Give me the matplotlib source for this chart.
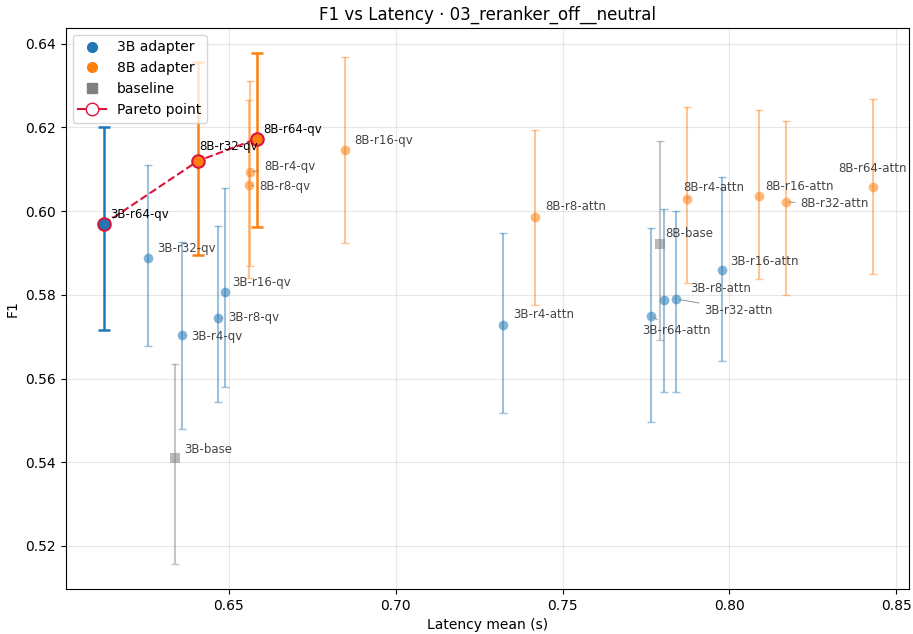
import matplotlib
matplotlib.use("Agg")
import matplotlib.pyplot as plt
from matplotlib.lines import Line2D

# runs: name, mean latency (s), F1, F1 error lower/upper bounds
names = ["3B-r64-qv", "3B-r32-qv", "3B-r4-qv", "3B-r8-qv", "3B-r16-qv", "3B-base",
         "8B-r32-qv", "8B-r64-qv", "8B-r4-qv", "8B-r8-qv", "8B-r16-qv",
         "3B-r4-attn", "8B-r8-attn", "3B-r64-attn", "8B-base", "3B-r8-attn",
         "3B-r32-attn", "8B-r4-attn", "3B-r16-attn", "8B-r16-attn", "8B-r32-attn",
         "8B-r64-attn"]
latency = [0.6125, 0.6257, 0.6359, 0.6467, 0.6488, 0.6338,
           0.6407, 0.6584, 0.6563, 0.6560, 0.6848,
           0.7322, 0.7418, 0.7766, 0.7793, 0.7805,
           0.7841, 0.7874, 0.7979, 0.8087, 0.8168,
           0.8429]
f1 = [0.5969, 0.5888, 0.5704, 0.5744, 0.5807, 0.5410,
      0.6120, 0.6173, 0.6094, 0.6062, 0.6145,
      0.5728, 0.5987, 0.5749, 0.5922, 0.5788,
      0.5790, 0.6030, 0.5859, 0.6036, 0.6022,
      0.6058]
f1_low = [0.5716, 0.5678, 0.5479, 0.5544, 0.5579, 0.5156,
          0.5895, 0.5962, 0.5869, 0.5840, 0.5924,
          0.5517, 0.5776, 0.5496, 0.5692, 0.5567,
          0.5567, 0.5828, 0.5642, 0.5838, 0.5800,
          0.5850]
f1_high = [0.6201, 0.6111, 0.5926, 0.5965, 0.6056, 0.5634,
           0.6357, 0.6378, 0.6311, 0.6266, 0.6369,
           0.5948, 0.6194, 0.5960, 0.6168, 0.6005,
           0.6000, 0.6249, 0.6082, 0.6242, 0.6216,
           0.6268]
pareto = ["3B-r64-qv", "8B-r32-qv", "8B-r64-qv"]

# label offsets in pixels (dx, dy); the ones in `leader` get a thin connector
label_offset = {
    "3B-r64-qv": (6, 10), "3B-r32-qv": (9, 10), "3B-r4-qv": (9, -1),
    "3B-r8-qv": (10, 1), "3B-r16-qv": (7, 9), "3B-base": (9, 9),
    "8B-r32-qv": (1, 14), "8B-r64-qv": (6, 9), "8B-r4-qv": (14, 5),
    "8B-r8-qv": (10, -1), "8B-r16-qv": (9, 10), "3B-r4-attn": (10, 10),
    "8B-r8-attn": (10, 10), "3B-r64-attn": (-9, -14), "8B-base": (5, 10),
    "3B-r8-attn": (26, 11), "3B-r32-attn": (28, -11), "8B-r4-attn": (-4, 11),
    "3B-r16-attn": (8, 9), "8B-r16-attn": (7, 10), "8B-r32-attn": (15, -2),
    "8B-r64-attn": (-34, 18),
}
leader = {"3B-r4-qv", "3B-r8-qv", "8B-r4-qv", "8B-r8-qv", "3B-r64-attn",
          "3B-r32-attn", "8B-r4-attn", "8B-r32-attn"}

C3 = "#1f77b4"
C8 = "#ff7f0e"
CB = "#808080"

fig, ax = plt.subplots(figsize=(9.13, 6.34), dpi=100)

for n, x, y, lo, hi in zip(names, latency, f1, f1_low, f1_high):
    base = n.endswith("base")
    color = CB if base else (C3 if n.startswith("3B") else C8)
    marker = "s" if base else "o"
    yerr = [[y - lo], [hi - y]]
    if n in pareto:
        ax.errorbar([x], [y], yerr=yerr, fmt="none", ecolor=color,
                    elinewidth=1.8, capsize=4, capthick=1.8, zorder=3)
        ax.plot([x], [y], marker="o", ms=9, color=color, mec="crimson",
                mew=1.5, ls="none", zorder=5)
        tcol = "black"
    else:
        ax.errorbar([x], [y], yerr=yerr, fmt="none", ecolor=color,
                    elinewidth=1.5, capsize=3, alpha=0.45, zorder=2)
        ax.plot([x], [y], marker=marker, ms=7, color=color, alpha=0.55,
                ls="none", zorder=4, mew=0)
        tcol = "#444444"
    dx, dy = label_offset[n]
    arrow = dict(arrowstyle="-", color="gray", lw=0.6) if n in leader else None
    ax.annotate(n, (x, y), xytext=(dx, dy), textcoords="offset pixels",
                fontsize=8.5, color=tcol, ha="left", va="center",
                arrowprops=arrow, zorder=6)

# Pareto front
px = [latency[names.index(n)] for n in pareto]
py = [f1[names.index(n)] for n in pareto]
ax.plot(px, py, ls="--", color="crimson", lw=1.5, zorder=4)

ax.set_xlim(0.6011, 0.8539)
ax.set_ylim(0.5097, 0.6438)
ax.set_xlabel("Latency mean (s)")
ax.set_ylabel("F1")
ax.set_title("F1 vs Latency · 03_reranker_off__neutral")
ax.grid(True, alpha=0.3)

handles = [
    Line2D([], [], marker="o", color=C3, ls="none", ms=7, label="3B adapter"),
    Line2D([], [], marker="o", color=C8, ls="none", ms=7, label="8B adapter"),
    Line2D([], [], marker="s", color=CB, ls="none", ms=7, label="baseline"),
    Line2D([], [], marker="o", color="crimson", mfc="white", mec="crimson",
           ms=9, lw=1.5, label="Pareto point"),
]
ax.legend(handles=handles, loc="upper left")

fig.subplots_adjust(left=0.072, right=0.996, top=0.956, bottom=0.071)
fig.savefig("out.png")
